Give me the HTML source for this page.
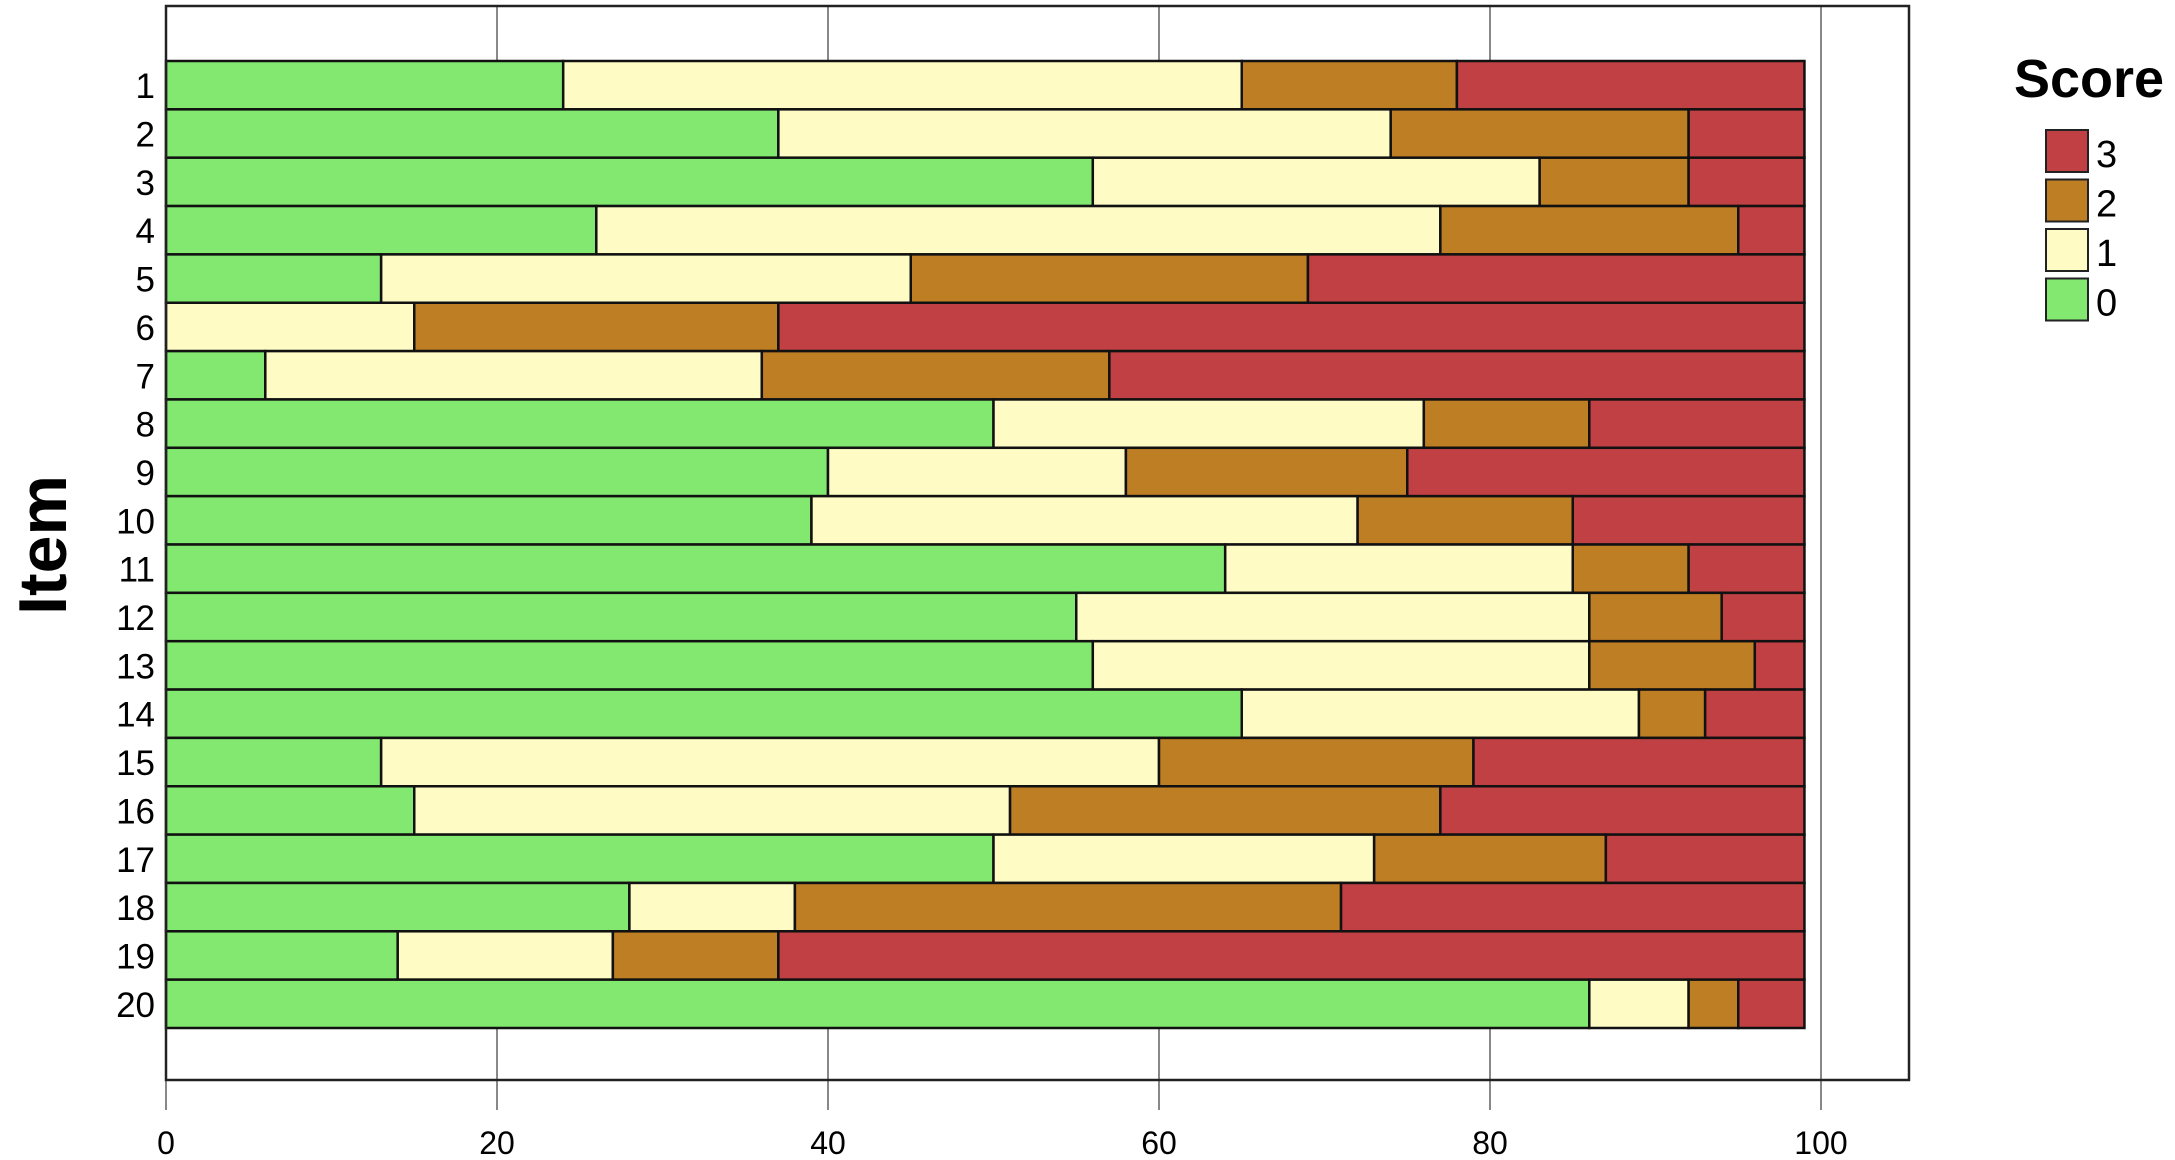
<!DOCTYPE html>
<html><head><meta charset="utf-8"><style>
html,body{margin:0;padding:0;background:#fff;width:2175px;height:1160px;overflow:hidden}
svg{display:block;font-family:"Liberation Sans",sans-serif}
</style></head><body>
<svg id="chart" width="2175" height="1160" viewBox="0 0 2175 1160"></svg>
<script>
const items = ["1","2","3","4","5","6","7","8","9","10","11","12","13","14","15","16","17","18","19","20"];
const score0 = [24,37,56,26,13,0,6,50,40,39,64,55,56,65,13,15,50,28,14,86];
const score1 = [41,37,27,51,32,15,30,26,18,33,21,31,30,24,47,36,23,10,13,6];
const score2 = [13,18,9,18,24,22,21,10,17,13,7,8,10,4,19,26,14,33,10,3];
const score3 = [21,7,7,4,30,62,42,13,24,14,7,5,3,6,20,22,12,28,62,4];
const xTicks = [0,20,40,60,80,100];
const legendLabels = ["3","2","1","0"];

const NS="http://www.w3.org/2000/svg";
const svg=document.getElementById('chart');
function mk(t,a){const e=document.createElementNS(NS,t);for(const k in a)e.setAttribute(k,a[k]);svg.appendChild(e);return e;}
const X0=166,PX=16.55,TOP=6,BOT=1080,RIGHT=1909,BAR0=61,PITCH=48.35;
const xs=v=>X0+v*PX;
const colors=["#82e870","#fefcc4","#bd7e24","#c04044"];
const series=[score0,score1,score2,score3];
const snames=["score-0","score-1","score-2","score-3"];
xTicks.forEach(t=>{
  const l=mk('line',{x1:xs(t),x2:xs(t),y1:TOP,y2:1110,stroke:'#888','stroke-width':2});
  
  
  const tx=mk('text',{x:xs(t),y:1154,'text-anchor':'middle','font-size':32,fill:'#000'});
  tx.textContent=t;
  
  
});
items.forEach((it,i)=>{
  const y=BAR0+i*PITCH;let acc=0;
  series.forEach((s,j)=>{
    const v=s[i];
    if(v>0){
      const r=mk('rect',{x:xs(acc),y:y,width:v*PX,height:PITCH,fill:colors[j],stroke:'#111','stroke-width':2.5});
      
      
    }
    acc+=v;
  });
  const lb=mk('text',{x:155,y:y+PITCH/2+13,'text-anchor':'end','font-size':35,fill:'#000'});
  lb.textContent=it;
  
  
});
const fr=mk('path',{d:`M${X0} ${BOT} L${X0} ${TOP} L${RIGHT} ${TOP} L${RIGHT} ${BOT} Z`,fill:'none',stroke:'#222','stroke-width':2.5});


const yt=mk('text',{x:0,y:0,transform:'translate(66,545) rotate(-90)','text-anchor':'middle','font-size':68,'font-weight':'bold',fill:'#000'});
yt.textContent='Item';


const lt=mk('text',{x:2014,y:97,'font-size':54,'font-weight':'bold',fill:'#000'});
lt.textContent='Score';


legendLabels.forEach((l,k)=>{
  const y=130+k*49.5;
  const c=colors[3-k];
  const r=mk('rect',{x:2046,y:y,width:42,height:42,fill:c,stroke:'#222','stroke-width':2});
  
  
  const t=mk('text',{x:2096,y:y+37,'font-size':38,fill:'#000'});
  t.textContent=l;
  
  
});
</script>
</body></html>
